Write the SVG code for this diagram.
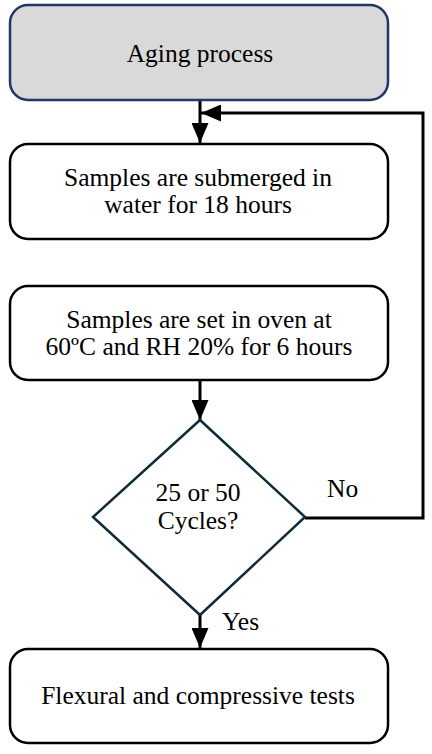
<svg xmlns="http://www.w3.org/2000/svg" width="432" height="754" viewBox="0 0 432 754">
<style>
.box{fill:#ffffff;stroke:#000000;stroke-width:2.5}
.start{fill:#d9d9d9;stroke:#1f3864;stroke-width:2.5}
.dec{fill:#ffffff;stroke:#0f2b3a;stroke-width:2.5}
.t{font-family:"Liberation Serif","Times New Roman",serif;font-size:25.5px;fill:#000000;text-anchor:middle}
.lbl{font-family:"Liberation Serif","Times New Roman",serif;font-size:25.5px;fill:#000000}
.c{fill:none;stroke:#000000;stroke-width:3}
</style>
<defs>
<marker id="ah" viewBox="0 0 20 17" refX="20" refY="8.5" markerWidth="20" markerHeight="17" markerUnits="userSpaceOnUse" orient="auto">
<path d="M0,0 L20,8.5 L0,17 Z" fill="#000000"/>
</marker>
</defs>
<rect width="432" height="754" fill="#ffffff"/>
<g id="connectors">
<line class="c" x1="200" y1="101" x2="200" y2="143" marker-end="url(#ah)"/>
<polyline class="c" points="305,518 423,518 423,113 201,113" marker-end="url(#ah)"/>
<line class="c" x1="200" y1="380" x2="200" y2="420" marker-end="url(#ah)"/>
<line class="c" x1="200" y1="615" x2="200" y2="648" marker-end="url(#ah)"/>
</g>
<g id="aging">
<rect class="start" x="10" y="5" width="378" height="95" rx="18"/>
<text class="t" x="200" y="62">Aging process</text>
</g>
<g id="submerged">
<rect class="box" x="10" y="144" width="378" height="95" rx="18"/>
<text class="t" x="198" y="186">Samples are submerged in</text>
<text class="t" x="198" y="213">water for 18 hours</text>
</g>
<g id="oven">
<rect class="box" x="10" y="286" width="378" height="94" rx="18"/>
<text class="t" x="199" y="328">Samples are set in oven at</text>
<text class="t" x="199" y="355">60ºC and RH 20% for 6 hours</text>
</g>
<g id="decision">
<polygon class="dec" points="200,420 305,517 200,615 93,517"/>
<text class="t" x="198" y="501">25 or 50</text>
<text class="t" x="198" y="529">Cycles?</text>
</g>
<g id="labels">
<text class="lbl" x="327" y="497">No</text>
<text class="lbl" x="222" y="630">Yes</text>
</g>
<g id="tests">
<rect class="box" x="10" y="649" width="378" height="94" rx="18"/>
<text class="t" x="198" y="704">Flexural and compressive tests</text>
</g>
</svg>
